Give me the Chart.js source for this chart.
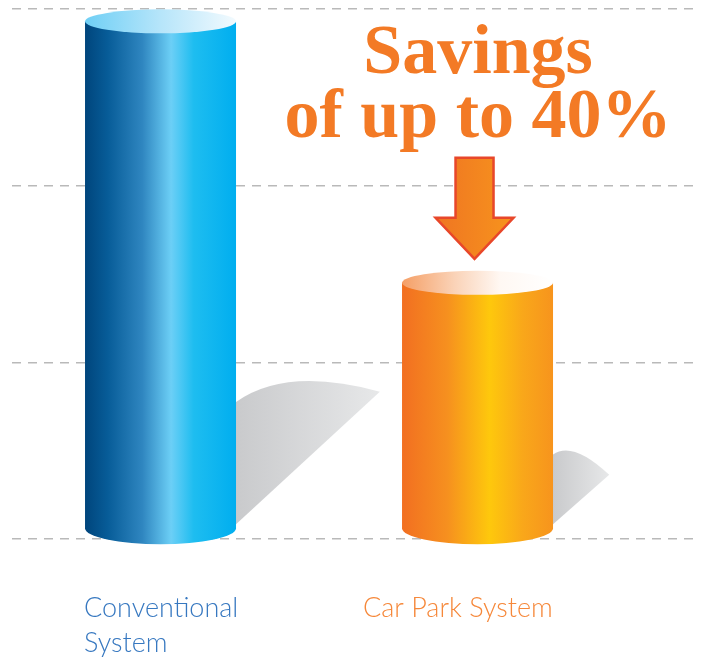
<!DOCTYPE html>
<html lang="en">
<head>
    <meta charset="UTF-8">
    <title>Savings</title>
    <script src="https://cdn.jsdelivr.net/npm/chart.js"></script>
    <style>
        html, body { margin: 0; padding: 0; background: #fff; }
        #wrap { width: 702px; height: 659px; }
    </style>
</head>
<body>
    <div id="wrap"><canvas id="myChart" width="702" height="659"></canvas></div>
    <script>
        // data
        const categories = [['Conventional', 'System'], ['Car Park System']];
        const values = [2.93, 1.45];
        const gridTicks = [0, 1, 2, 3];
        const headline = ['Savings', 'of up to 40%'];

        // looks
        const labelColors = ['#3778c0', '#f6883a'];
        const labelShift = [-1, -39];
        const bodyStops = [
            [[0, '#00457c'], [0.15, '#075c98'], [0.38, '#2f86c0'], [0.57, '#6ccff6'], [0.72, '#1ebdf0'], [1, '#00aeef']],
            [[0, '#f26f21'], [0.3, '#f6901f'], [0.58, '#fec80c'], [0.8, '#f9a71a'], [1, '#f7941d']]
        ];
        const capStops = [
            [[0, '#6fcff5'], [0.5, '#b6e5fa'], [1, '#f2fafe']],
            [[0, '#f59f66'], [0.35, '#fad3b8'], [0.65, '#fff8f3'], [1, '#ffffff']]
        ];
        const ORANGE = '#f37a25';

        function grad(ctx, x0, x1, stops) {
            const g = ctx.createLinearGradient(x0, 0, x1, 0);
            stops.forEach(s => g.addColorStop(s[0], s[1]));
            return g;
        }

        function drawShadow(ctx, bar) {
            const right = bar.x + bar.width / 2;
            const yb = bar.base - 10;
            const h = yb - bar.y;
            const len = 0.335 * h - 26;
            const rise = 0.6 * len + 40;
            ctx.beginPath();
            ctx.moveTo(right, yb - 4);
            ctx.lineTo(right, yb - rise);
            ctx.quadraticCurveTo(right + 0.35 * len, yb - rise - 0.25 * len, right + len, yb - 0.95 * len);
            ctx.closePath();
            ctx.fillStyle = grad(ctx, right, right + len, [[0, '#c9cacc'], [1, '#e7e8e9']]);
            ctx.fill();
        }

        function drawCylinder(ctx, bar, i) {
            const left = bar.x - bar.width / 2;
            const right = bar.x + bar.width / 2;
            const rx = bar.width / 2;
            const top = bar.y;
            const yb = bar.base - 10;
            // body
            ctx.beginPath();
            ctx.moveTo(left, top);
            ctx.lineTo(left, yb);
            ctx.ellipse(bar.x, yb, rx, 16, 0, Math.PI, 0, true);
            ctx.lineTo(right, top);
            ctx.closePath();
            ctx.fillStyle = grad(ctx, left, right, bodyStops[i]);
            ctx.fill();
            // top cap
            ctx.beginPath();
            ctx.ellipse(bar.x, top, rx, 12, 0, 0, Math.PI * 2);
            ctx.fillStyle = grad(ctx, left, right, capStops[i]);
            ctx.fill();
        }

        function drawArrow(ctx, cx, tip) {
            ctx.beginPath();
            ctx.moveTo(cx - 19, tip - 101);
            ctx.lineTo(cx + 19, tip - 101);
            ctx.lineTo(cx + 19, tip - 41);
            ctx.lineTo(cx + 39, tip - 41);
            ctx.lineTo(cx, tip);
            ctx.lineTo(cx - 39, tip - 41);
            ctx.lineTo(cx - 19, tip - 41);
            ctx.closePath();
            ctx.fillStyle = grad(ctx, cx - 39, cx + 39, [[0, '#ef7522'], [1, '#f7941d']]);
            ctx.fill();
            ctx.lineWidth = 2.5;
            ctx.lineJoin = 'miter';
            ctx.strokeStyle = '#e8472a';
            ctx.stroke();
        }

        const cylinderPlugin = {
            id: 'cylinders',
            afterDatasetsDraw(chart) {
                const ctx = chart.ctx;
                const bars = chart.getDatasetMeta(0).data;
                ctx.save();
                bars.forEach(bar => drawShadow(ctx, bar));
                bars.forEach((bar, i) => drawCylinder(ctx, bar, i));
                ctx.restore();
            },
            afterDraw(chart) {
                const ctx = chart.ctx;
                const area = chart.chartArea;
                const bars = chart.getDatasetMeta(0).data;
                ctx.save();

                // category labels under the bars
                ctx.font = '300 27px Lato';
                ctx.textAlign = 'left';
                ctx.textBaseline = 'alphabetic';
                bars.forEach((bar, i) => {
                    ctx.fillStyle = labelColors[i];
                    categories[i].forEach((line, k) => {
                        ctx.fillText(line, bar.x - bar.width / 2 + labelShift[i], area.bottom + 78 + k * 35);
                    });
                });

                // headline + arrow pointing at the second bar
                const target = bars[1];
                ctx.font = 'bold 70px "Liberation Serif"';
                ctx.textAlign = 'center';
                ctx.fillStyle = ORANGE;
                headline.forEach((line, k) => {
                    ctx.fillText(line, target.x + 0.5, area.top + 64 + k * 64);
                });
                drawArrow(ctx, target.x - 3, target.y - 24);
                ctx.restore();
            }
        };

        const ctx = document.getElementById('myChart');

        new Chart(ctx, {
            type: 'bar',
            data: {
                datasets: [{
                    data: values.map((v, i) => ({ x: i, y: v })),
                    backgroundColor: 'rgba(0,0,0,0)',
                    barThickness: 151
                }]
            },
            options: {
                responsive: false,
                animation: false,
                layout: { padding: { left: 12, right: 7, top: 9, bottom: 120 } },
                plugins: {
                    legend: { display: false },
                    tooltip: { enabled: false }
                },
                scales: {
                    x: {
                        type: 'linear',
                        min: -0.4685,
                        max: 1.686,
                        offset: false,
                        display: false
                    },
                    y: {
                        min: 0,
                        max: 3,
                        afterBuildTicks: s => { s.ticks = gridTicks.map(v => ({ value: v })); },
                        ticks: { display: false },
                        border: { display: false, dash: [9, 7] },
                        grid: {
                            color: '#b9b9b9',
                            lineWidth: 1.5,
                            drawTicks: false
                        }
                    }
                }
            },
            plugins: [cylinderPlugin]
        });
    </script>
</body>
</html>
